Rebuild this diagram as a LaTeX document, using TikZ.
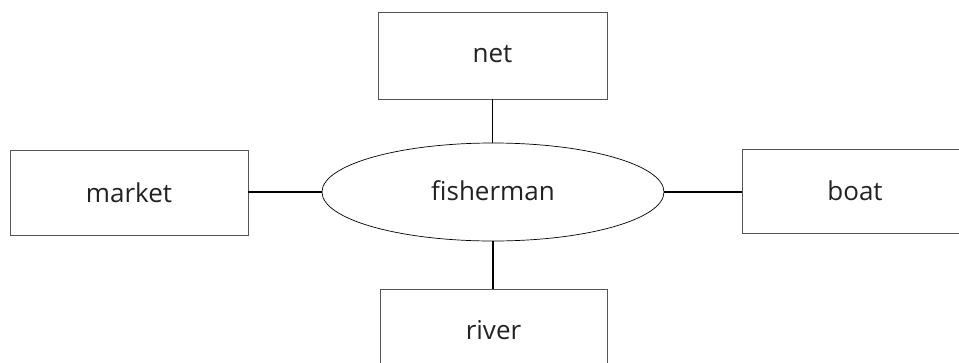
\documentclass[tikz,border=0pt]{standalone}
\usepackage{fontspec}
\setmainfont{Open Sans}
\usetikzlibrary{shapes.geometric}
\definecolor{boxgray}{HTML}{555555}
\definecolor{txt}{HTML}{222222}
\begin{document}
\begin{tikzpicture}[x=1pt,y=-1pt,
  box/.style={draw=boxgray, line width=0.9pt, rectangle, inner sep=0pt, text=txt, font=\fontsize{26}{30}\selectfont},
  oval/.style={draw=black, line width=0.7pt, ellipse, inner sep=0pt, text=txt, font=\fontsize{26}{30}\selectfont},
  conn/.style={draw=black, line width=1.6pt}]
\useasboundingbox (0,0) rectangle (959,362);
\clip (0,0) rectangle (959,362);
\node[oval, minimum width=342pt, minimum height=98pt] (fish) at (493,192) {\raisebox{2pt}{fisherman}};
\node[box, minimum width=229pt, minimum height=87pt] (net) at (492.5,55.5) {\raisebox{3pt}{net}};
\node[box, minimum width=238pt, minimum height=85pt] (market) at (129,192.5) {market};
\node[box, minimum width=226pt, minimum height=84pt] (boat) at (855,191) {\raisebox{1pt}{boat}};
\node[box, minimum width=227pt, minimum height=86pt] (river) at (493.5,332) {\raisebox{4pt}{river}};
\draw[conn] (net.south) -- (net.south |- fish.north);
\draw[conn] (fish.south) -- (fish.south |- river.north);
\draw[conn] (market.east |- fish.west) -- (fish.west);
\draw[conn] (fish.east) -- (boat.west |- fish.east);
\end{tikzpicture}
\end{document}
